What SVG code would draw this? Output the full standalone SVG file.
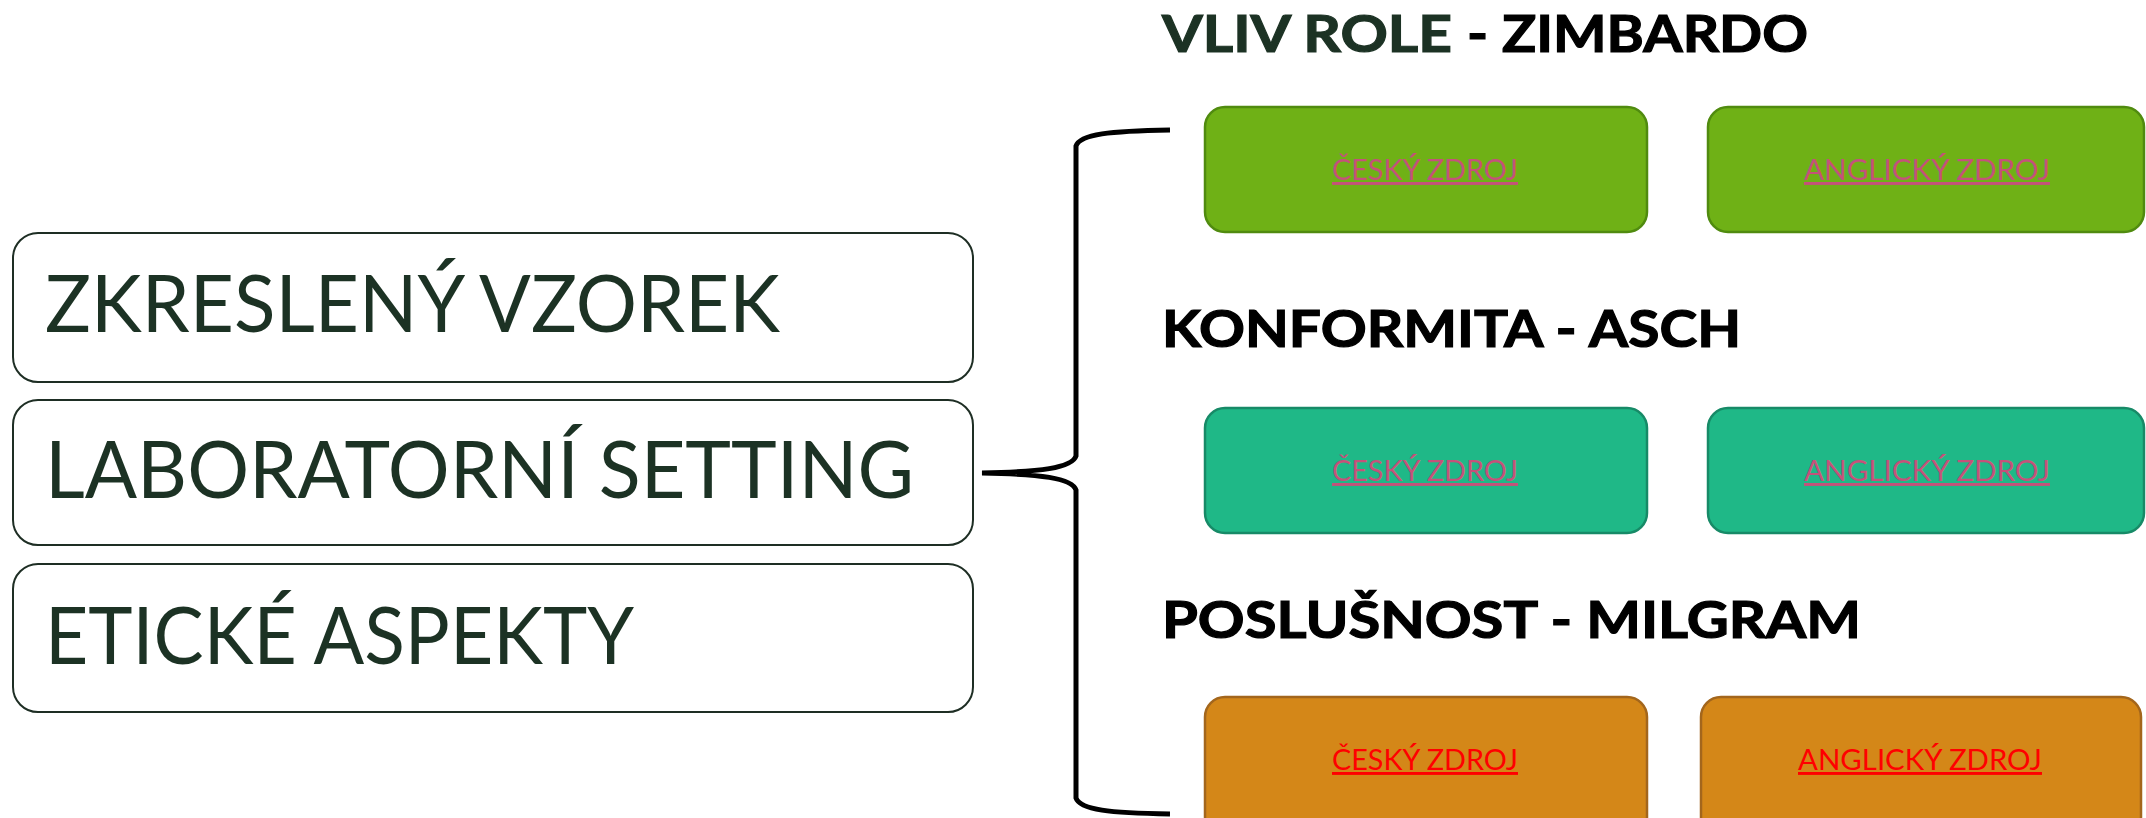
<svg xmlns="http://www.w3.org/2000/svg" width="2146" height="818" viewBox="0 0 2146 818">
<style>
  .lbox { fill:#ffffff; stroke:#1e2e24; stroke-width:2; }
  .ltext { font-family:Lato, "Open Sans", sans-serif; font-size:79px; fill:#1c3224; }
  .title { font-family:Lato, "Liberation Sans", sans-serif; font-weight:700; font-size:52px; fill:#000000; stroke:#000000; stroke-width:1.2; }
  .dark { fill:#1c3224; stroke:#1c3224; }
  .g { fill:#6fb116; stroke:#508b0f; stroke-width:2.5; }
  .t { fill:#1fb887; stroke:#178a67; stroke-width:2.5; }
  .o { fill:#d48718; stroke:#a3661c; stroke-width:2.5; }
  .lnk { font-family:Lato, "Open Sans", sans-serif; font-size:29px; text-anchor:start; text-decoration:underline; }
  .pink { fill:#c4527a; }
  .red { fill:#ff0000; }
  .brace { fill:none; stroke:#000000; stroke-width:5; stroke-linecap:butt; }
</style>
<rect width="2146" height="818" fill="#ffffff"/>

<g id="node-zkresleny">
  <rect class="lbox" x="13" y="233" width="960" height="149" rx="25"/>
  <text class="ltext" x="45" y="332" textLength="735" lengthAdjust="spacingAndGlyphs">ZKRESLENÝ VZOREK</text>
</g>
<g id="node-laboratorni">
  <rect class="lbox" x="13" y="400" width="960" height="145" rx="25"/>
  <text class="ltext" x="45" y="498" textLength="869" lengthAdjust="spacingAndGlyphs">LABORATORNÍ SETTING</text>
</g>
<g id="node-eticke">
  <rect class="lbox" x="13" y="564" width="960" height="148" rx="25"/>
  <text class="ltext" x="45" y="664" textLength="589" lengthAdjust="spacingAndGlyphs">ETICKÉ ASPEKTY</text>
</g>

<g id="connectors">
  <path class="brace" d="M 1170 130 C 1110 131 1080 134 1076 146 L 1076 456 C 1072 468 1040 472 982 473 C 1040 474 1072 478 1076 490 L 1076 798 C 1080 810 1110 813 1170 814"/>
</g>

<g id="title-zimbardo">
  <text class="title" y="52"><tspan class="dark" x="1162" textLength="290" lengthAdjust="spacingAndGlyphs">VLIV ROLE</tspan><tspan x="1467" textLength="341" lengthAdjust="spacingAndGlyphs">- ZIMBARDO</tspan></text>
</g>
<g id="title-asch">
  <text class="title" x="1162" y="347" textLength="579" lengthAdjust="spacingAndGlyphs">KONFORMITA - ASCH</text>
</g>
<g id="title-milgram">
  <text class="title" x="1162" y="638" textLength="699" lengthAdjust="spacingAndGlyphs">POSLUŠNOST - MILGRAM</text>
</g>

<g id="node-zimbardo-cz">
  <rect class="g" x="1205" y="107" width="442" height="125" rx="20"/>
  <text class="lnk pink" x="1332" y="180" textLength="186" lengthAdjust="spacingAndGlyphs">ČESKÝ ZDROJ</text>
</g>
<g id="node-zimbardo-en">
  <rect class="g" x="1708" y="107" width="436" height="125" rx="20"/>
  <text class="lnk pink" x="1804" y="180" textLength="246" lengthAdjust="spacingAndGlyphs">ANGLICKÝ ZDROJ</text>
</g>

<g id="node-asch-cz">
  <rect class="t" x="1205" y="408" width="442" height="125" rx="20"/>
  <text class="lnk pink" x="1332" y="481" textLength="186" lengthAdjust="spacingAndGlyphs">ČESKÝ ZDROJ</text>
</g>
<g id="node-asch-en">
  <rect class="t" x="1708" y="408" width="436" height="125" rx="20"/>
  <text class="lnk pink" x="1804" y="481" textLength="246" lengthAdjust="spacingAndGlyphs">ANGLICKÝ ZDROJ</text>
</g>

<g id="node-milgram-cz">
  <rect class="o" x="1205" y="697" width="442" height="140" rx="20"/>
  <text class="lnk red" x="1332" y="770" textLength="186" lengthAdjust="spacingAndGlyphs">ČESKÝ ZDROJ</text>
</g>
<g id="node-milgram-en">
  <rect class="o" x="1701" y="697" width="440" height="140" rx="20"/>
  <text class="lnk red" x="1798" y="770" textLength="244" lengthAdjust="spacingAndGlyphs">ANGLICKÝ ZDROJ</text>
</g>
</svg>
